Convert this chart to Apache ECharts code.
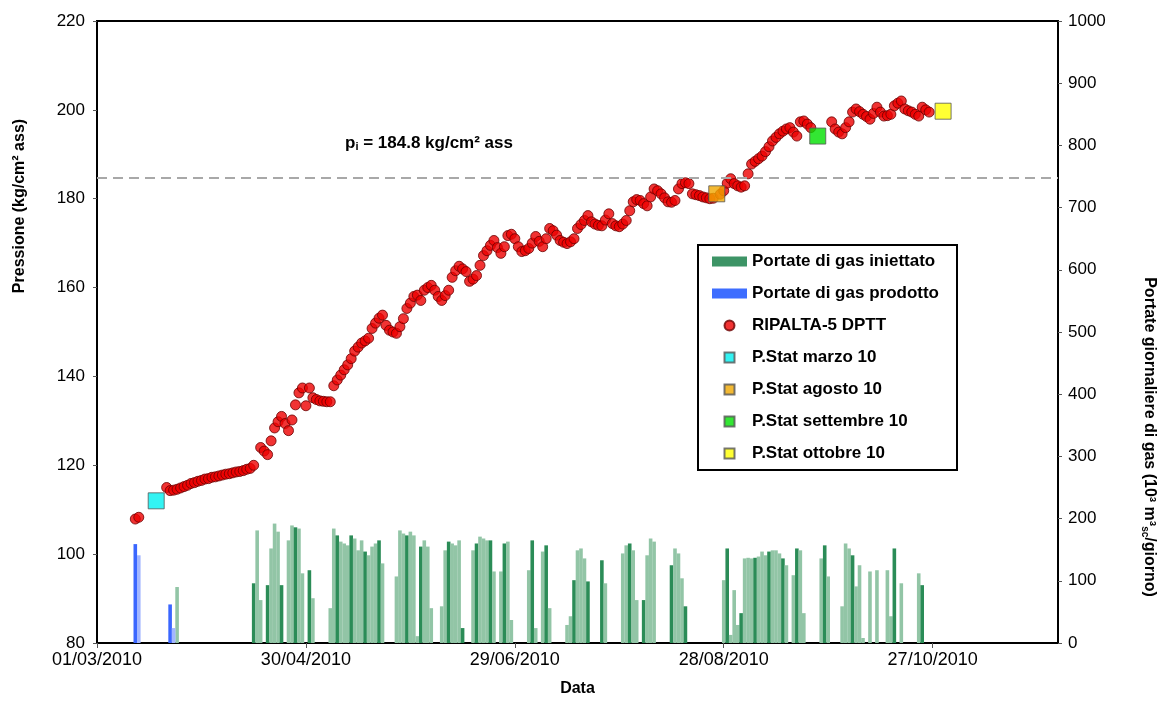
<!DOCTYPE html>
<html>
<head>
<meta charset="utf-8">
<script src="https://cdn.jsdelivr.net/npm/echarts@6/dist/echarts.min.js"></script>
<style>
  html, body { margin: 0; padding: 0; background: #fff; }
  #chart { width: 1163px; height: 702px; }
</style>
</head>
<body>
<div id="chart"></div>
<script>
// Day 0 of the x axis is 01/03/2010; every x value below is a day offset from it.
const START_UTC = Date.UTC(2010, 2, 1);
const X_MAX_DAY = 276;
const X_TICK_STEP = 60;

// Initial reservoir pressure (kg/cm² ass)
const PI_VALUE = 184.8;

// RIPALTA-5 DPTT bottom-hole pressure readings
const pressDays = [
  11, 12,
  20, 21, 22, 23, 24, 25, 26, 27, 28, 29, 30, 31, 32, 33, 34, 35, 36, 37, 38, 39, 40, 41, 42, 43, 44, 45,
  47, 48, 49, 50, 51, 52, 53, 54, 55, 56, 57, 58, 59, 60, 61, 62, 63, 64, 65, 66, 67,
  68, 69, 70, 71, 72, 73, 74, 75, 76, 77, 78, 79, 80, 81, 82, 83, 84, 85, 86, 87, 88, 89, 90,
  91, 92, 93, 94, 95, 96, 97, 98, 99, 100, 101, 102, 103, 104, 105, 106, 107, 108, 109, 110,
  111, 112, 113, 114, 115, 116, 117, 118, 119, 120, 121, 122, 123, 124, 125, 126, 127, 128, 129, 130,
  131, 132, 133, 134, 135, 136, 137, 138, 139, 140, 141, 142, 143, 144, 145, 146, 147, 148, 149, 150,
  151, 152, 153, 154, 155, 156, 157, 158, 159, 160, 161, 162, 163, 164, 165, 166, 167, 168, 169, 170,
  171, 172, 173, 174, 175, 176, 177, 179, 180, 181, 182, 183, 184, 185, 186, 187, 188, 189, 190,
  191, 192, 193, 194, 195, 196, 197, 198, 199, 200, 201, 202, 203, 204, 205,
  211, 212, 213, 214, 215, 216, 217, 218, 219, 220, 221, 222, 223, 224, 225, 226, 227, 228, 229, 230,
  231, 232, 233, 234, 235, 236, 237, 238, 239
];
const pressValues = [
  107.9, 108.3,
  115.0, 114.3, 114.4, 114.6, 114.9, 115.2, 115.5, 115.9, 116.1, 116.4, 116.6, 116.9, 117.0, 117.3, 117.4, 117.6, 117.8, 118.0, 118.1, 118.3, 118.5, 118.6, 118.8, 119.1, 119.3, 120.0,
  124.0, 123.2, 122.4, 125.5, 128.4, 129.8, 131.0, 129.4, 127.8, 130.2, 133.6, 136.3, 137.4, 133.4, 137.4, 135.2, 134.8, 134.5, 134.4, 134.3, 134.3,
  137.9, 139.2, 140.3, 141.5, 142.6, 144.0, 145.7, 146.6, 147.5, 148.0, 148.6, 150.8, 152.0, 153.1, 153.8, 151.5, 150.4, 150.0, 149.7, 151.2, 153.0, 155.3, 156.5,
  158.0, 158.3, 157.1, 159.4, 160.0, 160.5, 159.4, 158.0, 157.1, 158.2, 159.4, 162.3, 163.8, 164.8, 164.2, 163.6, 161.4, 161.9, 162.7, 165.0,
  167.2, 168.3, 169.5, 170.6, 169.0, 167.7, 169.2, 171.7, 172.0, 171.0, 169.2, 168.1, 168.3, 168.8, 170.0, 171.5, 170.4, 169.2, 171.0, 173.3,
  172.8, 171.8, 170.6, 170.2, 169.9, 170.3, 171.0, 173.3, 174.2, 175.1, 176.2, 174.8, 174.3, 174.0, 173.9, 175.2, 176.6, 174.4, 173.9, 173.7,
  174.3, 175.1, 177.3, 179.3, 179.8, 179.6, 178.9, 178.4, 180.4, 182.2, 181.8, 181.1, 180.2, 179.3, 179.2, 179.6, 182.2, 183.4, 183.6, 183.4,
  181.1, 180.9, 180.7, 180.4, 180.2, 180.0, 180.1, 181.0, 181.8, 183.5, 184.5, 183.4, 182.9, 182.6, 182.9, 185.6, 187.8, 188.4, 189.0,
  189.6, 190.6, 191.7, 193.0, 193.8, 194.6, 195.2, 195.7, 196.0, 195.0, 194.1, 197.3, 197.5, 196.8, 196.0,
  197.3, 195.7, 195.0, 194.6, 196.0, 197.3, 199.5, 200.2, 199.6, 199.0, 198.5, 197.9, 199.2, 200.6, 199.5, 198.6, 198.7, 199.0, 200.9, 201.5,
  202.0, 200.2, 199.8, 199.5, 199.0, 198.6, 200.6, 200.0, 199.5
];

// Static pressure surveys
const statNames = ['P.Stat marzo 10', 'P.Stat agosto 10', 'P.Stat settembre 10', 'P.Stat ottobre 10'];
const statDays = [17, 178, 207, 243];
const statValues = [112.0, 181.1, 194.1, 199.7];
const statColors = ['#00f0f0', '#f0a800', '#00e000', '#ffff00'];

// Daily injected gas (10³ m³sc/giorno)
const injDays = [
  23,
  45, 46, 47, 49, 50, 51, 52, 53, 55, 56, 57, 58, 59, 61, 62,
  67, 68, 69, 70, 71, 72, 73, 74, 75, 76, 77, 78, 79, 80, 81, 82,
  86, 87, 88, 89, 90, 91, 92, 93, 94, 95, 96,
  99, 100, 101, 102, 103, 104, 105,
  108, 109, 110, 111, 112, 113, 114,
  116, 117, 118, 119,
  124, 125, 126, 128, 129, 130,
  135, 136, 137, 138, 139, 140, 141,
  145, 146,
  151, 152, 153, 154, 155, 157, 158, 159, 160,
  165, 166, 167, 168, 169,
  180, 181, 182, 183, 184, 185, 186, 187, 188, 189, 190, 191, 192, 193, 194, 195, 196, 197, 198,
  200, 201, 202, 203,
  208, 209, 210,
  214, 215, 216, 217, 218, 219, 220,
  222, 224,
  227, 228, 229, 231,
  236, 237
];
const injValues = [
  90,
  96, 181, 69, 93, 152, 192, 179, 93, 165, 189, 186, 184, 112, 117, 72,
  56, 184, 173, 163, 160, 157, 173, 168, 149, 165, 147, 141, 155, 160, 165, 128,
  107, 181, 176, 173, 179, 173, 11, 155, 165, 155, 56,
  59, 149, 163, 160, 157, 165, 24,
  149, 160, 171, 168, 165, 165, 115,
  115, 160, 163, 37,
  117, 165, 24, 147, 157, 56,
  29, 43, 101, 149, 152, 136, 99,
  133, 96,
  144, 157, 160, 149, 69, 69, 141, 168, 163,
  125, 152, 144, 104, 59,
  101, 152, 13, 85, 29, 48, 136, 137, 136, 137, 139, 147, 141, 147, 149, 149, 144, 136, 125,
  109, 152, 149, 48,
  136, 157, 107,
  59, 160, 152, 141, 91, 125, 8,
  115, 117,
  117, 43, 152, 96,
  112, 93
];

// Daily produced gas (10³ m³sc/giorno)
const prodDays = [11, 12, 21, 22];
const prodValues = [159, 141, 62, 24];

const FONT = "'Liberation Sans', Arial, Helvetica, sans-serif";

function pad2(n) { return (n < 10 ? '0' : '') + n; }
function dayLabel(d) {
  const t = new Date(START_UTC + d * 86400000);
  return pad2(t.getUTCDate()) + '/' + pad2(t.getUTCMonth() + 1) + '/' + t.getUTCFullYear();
}

const chart = echarts.init(document.getElementById('chart'), null, { renderer: 'canvas' });

const statSeries = statNames.map((name, i) => ({
  name: name,
  type: 'scatter',
  xAxisIndex: 0,
  yAxisIndex: 0,
  symbol: 'rect',
  symbolSize: 16,
  z: 5,
  itemStyle: { color: statColors[i], borderColor: '#555', borderWidth: 1 },
  data: [[statDays[i], statValues[i]]]
}));

const squareIcon = 'path://M0,0 L10,0 L10,10 L0,10 Z';

chart.setOption({
  animation: false,
  backgroundColor: '#ffffff',
  textStyle: { fontFamily: FONT, color: '#000' },
  grid: {
    left: 97, right: 105, top: 21, bottom: 57,
    show: true, borderColor: '#000', borderWidth: 2, backgroundColor: 'transparent'
  },
  legend: {
    orient: 'vertical',
    left: 698, top: 245,
    backgroundColor: '#fff',
    borderColor: '#000', borderWidth: 2,
    padding: [8, 18, 8, 14],
    itemGap: 15,
    itemWidth: 35, itemHeight: 10,
    textStyle: { fontSize: 17, fontWeight: 'bold', color: '#000', fontFamily: FONT },
    data: [
      { name: 'Portate di gas iniettato', icon: 'rect', itemStyle: { color: '#3d9466' } },
      { name: 'Portate di gas prodotto', icon: 'rect', itemStyle: { color: '#3d6dff' } },
      { name: 'RIPALTA-5 DPTT', icon: 'circle' },
      { name: statNames[0], icon: squareIcon },
      { name: statNames[1], icon: squareIcon },
      { name: statNames[2], icon: squareIcon },
      { name: statNames[3], icon: squareIcon }
    ]
  },
  xAxis: {
    type: 'value',
    min: 0, max: X_MAX_DAY, interval: X_TICK_STEP,
    name: 'Data', nameLocation: 'middle', nameGap: 38,
    nameTextStyle: { fontSize: 16, fontWeight: 'bold', color: '#000', fontFamily: FONT },
    axisLine: { show: true, lineStyle: { color: '#000', width: 2 } },
    axisTick: { show: true, length: 5, lineStyle: { color: '#555', width: 1 } },
    splitLine: { show: false },
    axisLabel: {
      fontSize: 18, color: '#000', margin: 8, fontFamily: FONT,
      showMaxLabel: false,
      formatter: v => (v % X_TICK_STEP === 0 && v <= 240 ? dayLabel(v) : '')
    }
  },
  yAxis: [
    {
      type: 'value', position: 'left',
      min: 80, max: 220, interval: 20,
      axisLine: { show: true, lineStyle: { color: '#000', width: 2 } },
      axisTick: { show: true, length: 4, lineStyle: { color: '#555' } },
      splitLine: { show: false },
      axisLabel: { fontSize: 17, color: '#000', margin: 12, fontFamily: FONT }
    },
    {
      type: 'value', position: 'right',
      min: 0, max: 1000, interval: 100,
      axisLine: { show: true, lineStyle: { color: '#000', width: 2 } },
      axisTick: { show: true, length: 4, lineStyle: { color: '#555' } },
      splitLine: { show: false },
      axisLabel: { fontSize: 17, color: '#000', margin: 10, fontFamily: FONT, formatter: v => String(v) }
    }
  ],
  series: [
    {
      name: 'Portate di gas iniettato',
      type: 'bar',
      xAxisIndex: 0, yAxisIndex: 1,
      barWidth: 3.6,
      barGap: '-100%',
      z: 2,
      itemStyle: {
        color: p => (p.data[0] % 4 === 1 ? '#2b8c57' : '#92c5a6')
      },
      data: injDays.map((d, i) => [d, injValues[i]])
    },
    {
      name: 'Portate di gas prodotto',
      type: 'bar',
      xAxisIndex: 0, yAxisIndex: 1,
      barWidth: 3.6,
      barGap: '-100%',
      z: 2,
      itemStyle: {
        color: p => (p.data[0] % 2 === 1 ? '#3a66ff' : '#a3b6ff')
      },
      data: prodDays.map((d, i) => [d, prodValues[i]])
    },
    {
      name: 'RIPALTA-5 DPTT',
      type: 'scatter',
      xAxisIndex: 0, yAxisIndex: 0,
      symbol: 'circle',
      symbolSize: 10,
      z: 4,
      itemStyle: { color: '#ee0000', borderColor: '#6a0000', borderWidth: 1 },
      data: pressDays.map((d, i) => [d, pressValues[i]]),
      markLine: {
        silent: true,
        symbol: 'none',
        label: { show: false },
        lineStyle: { color: '#a8a8a8', type: [10, 6], width: 2 },
        data: [{ yAxis: PI_VALUE }]
      }
    }
  ].concat(statSeries),
  graphic: [
    {
      type: 'text',
      x: 20, y: 206,
      rotation: Math.PI / 2,
      style: {
        text: 'Pressione (kg/cm² ass)',
        textAlign: 'center', textVerticalAlign: 'middle',
        font: 'bold 16px ' + FONT, fill: '#000'
      }
    },
    {
      type: 'text',
      x: 1149, y: 437,
      rotation: -Math.PI / 2,
      style: {
        text: '{a|Portate giornaliere di gas (10³ m³}{s|sc}{a|/giorno)}',
        textAlign: 'center', textVerticalAlign: 'middle',
        fill: '#000',
        rich: {
          a: { fontSize: 16, fontWeight: 'bold', fontFamily: FONT, fill: '#000' },
          s: { fontSize: 10, fontWeight: 'bold', fontFamily: FONT, fill: '#000', padding: [8, 0, 0, 0] }
        }
      }
    },
    {
      type: 'text',
      x: 345, y: 143,
      style: {
        text: '{a|p}{s|i}{a| = ' + PI_VALUE.toFixed(1) + ' kg/cm² ass}',
        textAlign: 'left', textVerticalAlign: 'middle',
        fill: '#000',
        rich: {
          a: { fontSize: 17, fontWeight: 'bold', fontFamily: FONT, fill: '#000' },
          s: { fontSize: 11, fontWeight: 'bold', fontFamily: FONT, fill: '#000', padding: [8, 0, 0, 0] }
        }
      }
    }
  ]
});
</script>
</body>
</html>
